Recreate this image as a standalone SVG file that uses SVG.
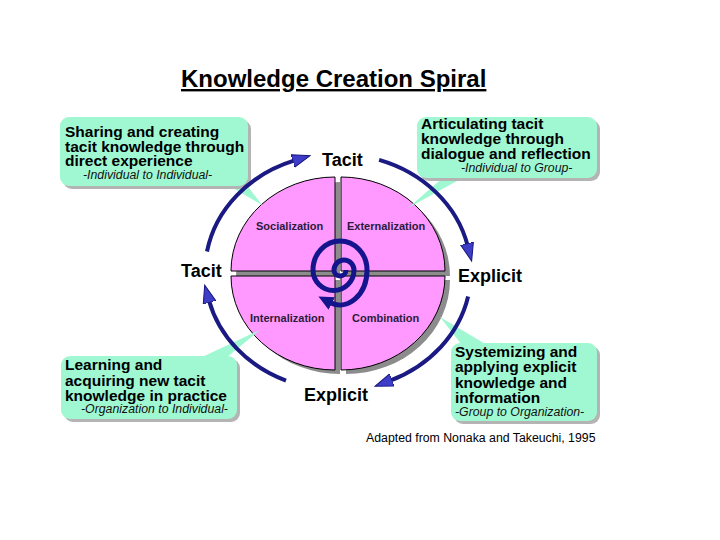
<svg xmlns="http://www.w3.org/2000/svg" width="720" height="540" viewBox="0 0 720 540">
<style>
text{font-family:"Liberation Sans",Arial,sans-serif;fill:#000}
.title{font-size:24px;font-weight:bold;text-decoration:underline}
.bt{font-size:15.5px;font-weight:bold}
.it{font-size:12.3px;font-style:italic;fill:#111}
.lab{font-size:18px;font-weight:bold}
.q{font-size:11px;font-weight:bold;fill:#2b1b3b}
.cite{font-size:12.3px}
.box{fill:#a0f8d2}
.shd{fill:#b4b4b4}
.quad{fill:#ff99ff;stroke:#000;stroke-width:1}
.qsh{fill:#8c8c8c}
.arc{fill:none;stroke:#1a1a82;stroke-width:4}
.spiral{fill:none;stroke:#14148c;stroke-width:5}
</style>
<defs>
<marker id="ah" markerUnits="userSpaceOnUse" markerWidth="20" markerHeight="16" viewBox="0 0 20 16" refX="2" refY="8" orient="auto">
<path d="M0,1.5 L18,8 L0,14.5 z" fill="#3d3dc8" stroke="#16167e" stroke-width="1"/>
</marker>
<marker id="sh" markerUnits="userSpaceOnUse" markerWidth="18" markerHeight="16" viewBox="0 0 18 16" refX="2" refY="8" orient="auto">
<path d="M0,1 L15,8 L0,15 z" fill="#14148c"/>
</marker>
</defs>
<rect width="720" height="540" fill="#fff"/>

<g id="title"><text class="title" x="181" y="87">Knowledge Creation Spiral</text></g>

<g id="circle">
<path class="qsh" d="M340 276 L236 276 A104 94 0 0 1 340 182 Z"/>
<path class="qsh" d="M346 276 L346 182 A104 94 0 0 1 450 276 Z"/>
<path class="qsh" d="M346 280 L450 280 A104 94 0 0 1 346 374 Z"/>
<path class="qsh" d="M340 280 L340 374 A104 94 0 0 1 236 280 Z"/>
<g id="socialization"><path class="quad" d="M335 271 L231 271 A104 94 0 0 1 335 177 Z"/><text class="q" x="256" y="230">Socialization</text></g>
<g id="externalization"><path class="quad" d="M341 271 L341 177 A104 94 0 0 1 445 271 Z"/><text class="q" x="347" y="230">Externalization</text></g>
<g id="combination"><path class="quad" d="M341 276 L445 276 A104 94 0 0 1 341 370 Z"/><text class="q" x="352" y="322">Combination</text></g>
<g id="internalization"><path class="quad" d="M335 276 L335 370 A104 94 0 0 1 231 276 Z"/><text class="q" x="250" y="322">Internalization</text></g>
<path class="spiral" marker-end="url(#sh)" d="M346 270 A6 6 0 0 1 334 270 A10 10 0 0 1 354 270 A20.5 20.5 0 0 1 313 270 A27 29 0 0 1 367 270 A27 35 0 0 1 330 302.5"/>
</g>

<g id="callout-socialization">
<polygon class="box" points="226,184 246,184 262,205"/>
<rect class="shd" x="63" y="120" width="188" height="69" rx="9"/>
<rect class="box" x="60" y="117" width="188" height="69" rx="9"/>
<text class="bt" x="65" y="136.5">Sharing and creating</text>
<text class="bt" x="65" y="151.5">tacit knowledge through</text>
<text class="bt" x="65" y="166">direct experience</text>
<text class="it" x="83" y="179">-Individual to Individual-</text>
</g>

<g id="callout-externalization">
<polygon class="box" points="445,176 466,176 408,208"/>
<rect class="shd" x="420" y="120" width="180" height="61" rx="9"/>
<rect class="box" x="417" y="117" width="180" height="61" rx="9"/>
<text class="bt" x="421" y="129">Articulating tacit</text>
<text class="bt" x="421" y="144">knowledge through</text>
<text class="bt" x="421" y="159">dialogue and reflection</text>
<text class="it" x="461" y="171.5">-Individual to Group-</text>
</g>

<g id="callout-internalization">
<polygon class="box" points="200,358 226,358 260,330"/>
<rect class="shd" x="64" y="359" width="176" height="63" rx="9"/>
<rect class="box" x="61" y="356" width="176" height="63" rx="9"/>
<text class="bt" x="65" y="370">Learning and</text>
<text class="bt" x="65" y="385.5">acquiring new tacit</text>
<text class="bt" x="65" y="401">knowledge in practice</text>
<text class="it" x="81" y="413">-Organization to Individual-</text>
</g>

<g id="callout-combination">
<polygon class="box" points="462,345 487,345 440,317"/>
<rect class="shd" x="454" y="346" width="146" height="78" rx="9"/>
<rect class="box" x="451" y="343" width="146" height="78" rx="9"/>
<text class="bt" x="455" y="357">Systemizing and</text>
<text class="bt" x="455" y="372">applying explicit</text>
<text class="bt" x="455" y="387.5">knowledge and</text>
<text class="bt" x="455" y="403">information</text>
<text class="it" x="455" y="416">-Group to Organization-</text>
</g>

<g id="connectors">
<path class="arc" marker-end="url(#ah)" d="M207 251.5 A133 118 0 0 1 294.7 160.4"/>
<path class="arc" marker-end="url(#ah)" d="M379.1 159.8 A133 118 0 0 1 467.6 245.5"/>
<path class="arc" marker-end="url(#ah)" d="M468.1 296.5 A133 118 0 0 1 390 380.7"/>
<path class="arc" marker-end="url(#ah)" d="M286 380.7 A133 118 0 0 1 209 300.5"/>
</g>

<g id="labels">
<text class="lab" x="322" y="166">Tacit</text>
<text class="lab" x="458" y="282">Explicit</text>
<text class="lab" x="181" y="277">Tacit</text>
<text class="lab" x="304" y="401">Explicit</text>
</g>

<g id="citation"><text class="cite" x="366" y="442">Adapted from Nonaka and Takeuchi, 1995</text></g>
</svg>
